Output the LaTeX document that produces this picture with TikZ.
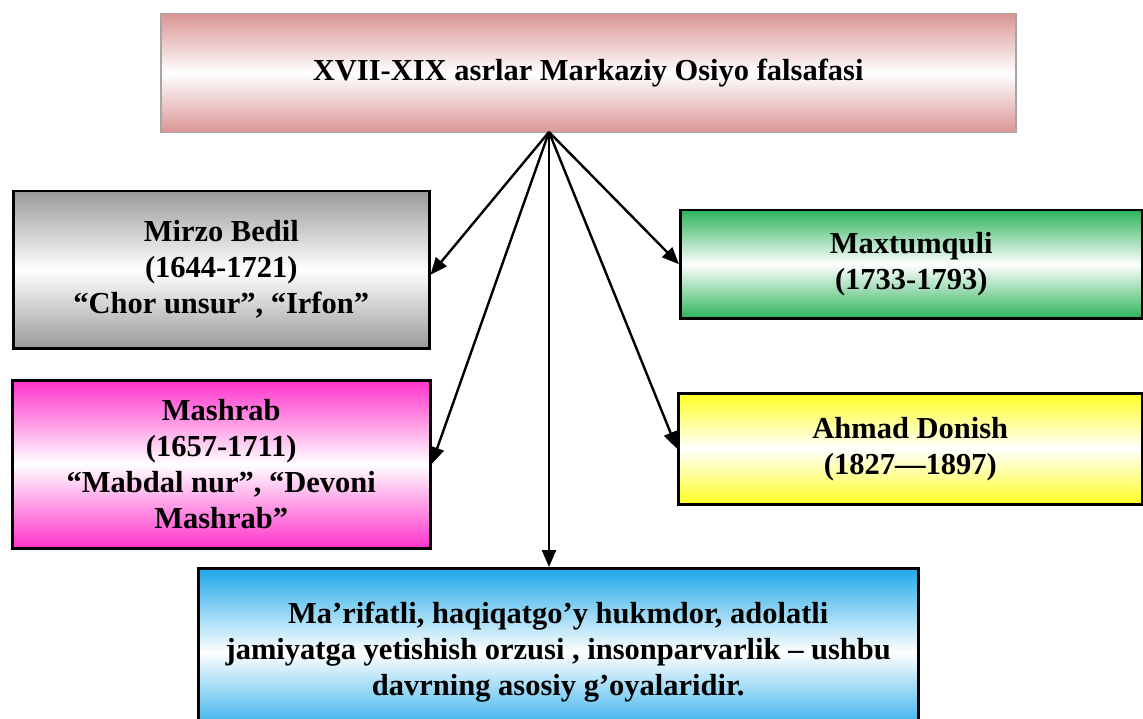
\documentclass[tikz,border=0pt]{standalone}
\usepackage{fontspec}
\setmainfont{Liberation Serif}
\usetikzlibrary{arrows.meta}
\definecolor{rosec}{HTML}{D99594}
\definecolor{grayc}{HTML}{9A9A9A}
\definecolor{greenc}{HTML}{2DB35A}
\definecolor{magc}{HTML}{FF33CC}
\definecolor{yelc}{HTML}{FFFF22}
\definecolor{bluec}{HTML}{1EA8EA}
\definecolor{bordgray}{HTML}{A6A6A6}
\tikzset{
  box/.style={rectangle, anchor=north west, inner sep=0pt, align=center,
    font=\bfseries\fontsize{30.5}{36}\selectfont, draw=black, line width=2.5pt},
  shade3/.style={top color=#1, bottom color=#1, middle color=white},
  arr/.style={line width=2.4pt, -{Triangle[length=17pt,width=14pt]}}
}
\begin{document}
\begin{tikzpicture}[x=1pt,y=-1pt]
\useasboundingbox (0,0) rectangle (1143,719);
\node[box, shade3=rosec, draw=bordgray, line width=1.5pt, minimum width=855pt, minimum height=119pt] (top) at (160,13) {XVII-XIX asrlar Markaziy Osiyo falsafasi};
\node[box, shade3=grayc, minimum width=416pt, minimum height=157pt] (bedil) at (12,190) {Mirzo Bedil\\(1644-1721)\\“Chor unsur”, “Irfon”};
\node[box, shade3=greenc, minimum width=462pt, minimum height=108pt] (maxt) at (679,209) {Maxtumquli\\(1733-1793)};
\node[box, shade3=magc, minimum width=418pt, minimum height=168pt] (mash) at (11,379) {Mashrab\\(1657-1711)\\“Mabdal nur”, “Devoni\\Mashrab”};
\node[box, shade3=yelc, minimum width=464pt, minimum height=111pt] (don) at (677,392) {Ahmad Donish\\(1827—1897)};
\node[box, shade3=bluec, minimum width=720pt, minimum height=168pt] (bot) at (197,567) {Ma’rifatli, haqiqatgo’y hukmdor, adolatli\\jamiyatga yetishish orzusi , insonparvarlik – ushbu\\davrning asosiy g’oyalaridir.};
\coordinate (o) at (549,132);
\draw[arr] (o) -- ([yshift=-5pt]bedil.east);
\draw[arr] (o) -- (maxt.west);
\draw[arr] (o) -- (mash.east);
\draw[arr] (o) -- (don.west);
\draw[arr] (o) -- (o |- bot.north);
\end{tikzpicture}
\end{document}
